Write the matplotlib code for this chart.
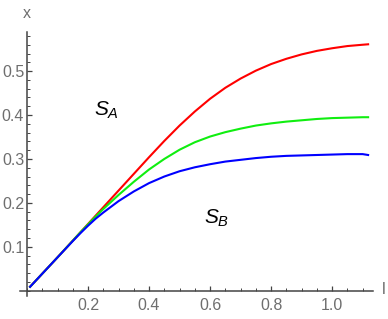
import matplotlib.pyplot as plt
from matplotlib.ticker import MultipleLocator

plt.rcParams['font.family'] = 'Liberation Sans'
plt.rcParams['mathtext.fontset'] = 'custom'
plt.rcParams['mathtext.rm'] = 'Liberation Sans'
plt.rcParams['mathtext.it'] = 'Liberation Sans:italic'

# curve values
l_vals = [0.01, 0.1, 0.15, 0.175, 0.2, 0.225, 0.25, 0.3, 0.35, 0.4, 0.45, 0.5, 0.55,
          0.6, 0.65, 0.7, 0.75, 0.8, 0.85, 0.9, 0.95, 1.0, 1.05, 1.1, 1.118]
x_red = [0.009, 0.076, 0.114, 0.133, 0.152, 0.171, 0.19, 0.228, 0.266, 0.304, 0.341,
         0.376, 0.408, 0.437, 0.462, 0.483, 0.501, 0.516, 0.528, 0.538, 0.546, 0.552,
         0.557, 0.56, 0.561]
x_green = [0.009, 0.076, 0.114, 0.133, 0.151, 0.169, 0.186, 0.218, 0.248, 0.276, 0.3,
           0.321, 0.338, 0.351, 0.361, 0.369, 0.376, 0.381, 0.385, 0.388, 0.391, 0.393,
           0.394, 0.395, 0.395]
x_blue = [0.009, 0.076, 0.113, 0.131, 0.148, 0.164, 0.178, 0.204, 0.226, 0.245, 0.26,
          0.272, 0.281, 0.288, 0.294, 0.298, 0.302, 0.305, 0.307, 0.308, 0.309, 0.31,
          0.311, 0.311, 0.309]

fig = plt.figure(figsize=(3.88, 3.19), dpi=100)
ax = fig.add_axes([20 / 388, 23 / 319, 353 / 388, 264 / 319])

ax.plot(l_vals, x_red, color='#ff0000', lw=1.5)
ax.plot(l_vals, x_green, color='#10ee10', lw=1.5)
ax.plot(l_vals, x_blue, color='#0000ff', lw=1.5)

ax.set_xlim(-0.023, 1.134)
ax.set_ylim(-0.012, 0.589)

# Mathematica-like axes through the origin
for s in ['top', 'right']:
    ax.spines[s].set_visible(False)
ax.spines['left'].set_position(('data', 0))
ax.spines['bottom'].set_position(('data', 0))
for s in ['left', 'bottom']:
    ax.spines[s].set_color('#444444')
    ax.spines[s].set_linewidth(1.1)

ax.xaxis.set_minor_locator(MultipleLocator(0.05))
ax.yaxis.set_minor_locator(MultipleLocator(0.02))
ax.set_xticks([0.2, 0.4, 0.6, 0.8, 1.0])
ax.set_xticklabels(['0.2', '0.4', '0.6', '0.8', '1.0'])
ax.set_yticks([0.1, 0.2, 0.3, 0.4, 0.5])
ax.set_yticklabels(['0.1', '0.2', '0.3', '0.4', '0.5'])
ax.tick_params(which='major', direction='in', length=3.5, width=0.9, color='#444444',
               labelcolor='#6e6e6e', labelsize=11.5)
ax.tick_params(which='minor', direction='in', length=2, width=0.7, color='#444444')
ax.tick_params(axis='x', which='major', pad=5.5)
ax.tick_params(axis='y', which='major', pad=2)

fig.text(27 / 388, 1 - 14 / 319, 'x', color='#6e6e6e', fontsize=11.5, ha='center', va='center')
fig.text(384 / 388, 1 - 289 / 319, 'l', color='#6e6e6e', fontsize=11.5, ha='center', va='center')

ax.text(0.26, 0.41, r'$S_A$', fontsize=15, ha='center', va='center')
ax.text(0.62, 0.165, r'$S_B$', fontsize=15, ha='center', va='center')

fig.savefig('out.png', dpi=100)
